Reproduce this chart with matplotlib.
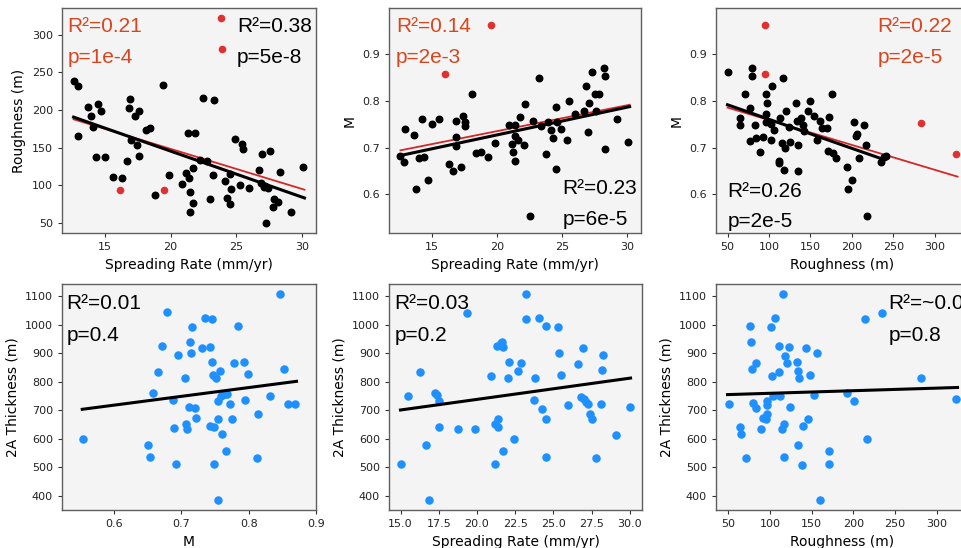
import numpy as np
import matplotlib
matplotlib.use("Agg")
import matplotlib.pyplot as plt

# ---- panel 1: spreading rate vs roughness ----
sr_p1 = [12.6, 12.9, 12.9, 13.7, 13.9, 14.1, 14.3, 14.45, 14.7, 15.0, 15.6, 16.3, 16.7, 16.9,
         16.85, 16.96, 17.3, 17.4, 17.6, 17.6, 18.1, 18.45, 18.8, 19.4, 19.9, 20.9, 21.2, 21.3,
         21.4, 21.45, 21.45, 21.7, 21.7, 21.85, 22.2, 22.5, 22.8, 23.0, 23.2, 23.3, 24.15, 24.3,
         24.5, 24.5, 24.6, 24.9, 25.3, 25.4, 25.55, 26.0, 26.7, 27.0, 26.9, 27.1, 27.3, 27.45,
         27.6, 27.85, 27.8, 28.2, 28.3, 29.2, 30.1, 27.2]
rough_p1 = [239, 232, 166, 204, 192, 178, 137, 208, 198, 137, 111, 110, 132, 215,
            203, 160, 192, 153, 199, 139, 174, 176, 87, 233, 113, 102, 116, 170,
            110, 91, 64, 76, 123, 170, 133, 216, 132, 82, 114, 213, 105, 83,
            115, 75, 95, 162, 100, 155, 148, 96, 120, 142, 103, 97, 50, 96,
            145, 82, 71, 78, 117, 64, 124, 99]
sr_p1_out = [23.8, 23.9, 16.1, 19.5]
rough_p1_out = [322, 281, 94, 94]
fit_p1_x = [12.6, 30.2]
fit_p1_all = [187.6, 94]
fit_p1_clean = [190.5, 83]

# ---- panel 2: spreading rate vs M ----
sr_p2 = [12.56, 12.85, 12.88, 13.6, 13.77, 14.0, 14.2, 14.4, 14.66, 14.95, 15.5, 16.26, 16.6,
         16.8, 16.84, 16.86, 17.2, 17.36, 17.5, 17.5, 18.04, 18.36, 18.78, 19.33, 19.85, 20.9,
         21.16, 21.2, 21.37, 21.4, 21.4, 21.6, 21.77, 22.1, 22.16, 22.5, 22.74, 23.2, 23.34,
         23.8, 23.94, 24.13, 24.3, 24.5, 24.5, 24.6, 24.9, 25.36, 25.5, 26.0, 26.7, 26.85, 27.0,
         27.1, 27.33, 27.5, 27.85, 27.6, 28.2, 28.3, 28.3, 29.2, 30.1]
m_p2 = [0.683, 0.669, 0.740, 0.726, 0.611, 0.678, 0.761, 0.679, 0.631, 0.750, 0.761, 0.665, 0.650,
        0.723, 0.756, 0.704, 0.659, 0.767, 0.755, 0.745, 0.814, 0.689, 0.690, 0.679, 0.710, 0.748,
        0.708, 0.691, 0.672, 0.748, 0.724, 0.717, 0.765, 0.706, 0.793, 0.555, 0.757, 0.847, 0.745,
        0.687, 0.754, 0.737, 0.721, 0.787, 0.654, 0.754, 0.740, 0.716, 0.800, 0.772, 0.778, 0.832,
        0.733, 0.795, 0.860, 0.813, 0.813, 0.777, 0.870, 0.853, 0.696, 0.761, 0.712]
sr_p2_out = [19.5, 16.0]
m_p2_out = [0.960, 0.856]
fit_p2_x_all = [12.56, 30.2]
fit_p2_all = [0.694, 0.791]
fit_p2_x = [12.56, 30.2]
fit_p2_clean = [0.683, 0.787]

# ---- panel 3: roughness vs M ----
rough_p3 = [50, 65.4, 65, 71, 76.7, 79.6, 79, 77, 83, 84.4, 89.3, 93, 97, 97.4, 96.6, 96.2,
            101.9, 103.5, 103, 105.5, 111.6, 112, 113.2, 115.6, 116.5, 118, 119.7, 121, 124.6,
            125.4, 133, 134.7, 135.5, 134.3, 138.3, 141, 142, 147.6, 149.7, 154, 157.4, 161.8,
            164.3, 169.5, 172.4, 171.6, 175.6, 176.8, 180.5, 193.8, 195, 200.3, 202, 204.8, 206,
            209, 215, 217, 218, 235.6, 238.5, 241]
m_p3 = [0.860, 0.762, 0.748, 0.813, 0.784, 0.870, 0.853, 0.713, 0.747, 0.721, 0.690, 0.722, 0.814,
        0.795, 0.772, 0.755, 0.716, 0.830, 0.750, 0.737, 0.666, 0.672, 0.762, 0.710, 0.847, 0.653,
        0.699, 0.778, 0.744, 0.712, 0.794, 0.650, 0.706, 0.757, 0.762, 0.748, 0.735, 0.777, 0.799,
        0.768, 0.717, 0.756, 0.742, 0.741, 0.765, 0.692, 0.814, 0.689, 0.678, 0.659, 0.611, 0.631,
        0.755, 0.724, 0.728, 0.678, 0.747, 0.705, 0.555, 0.670, 0.679, 0.683]
rough_p3_out = [95.4, 95.4, 283.8, 326]
m_p3_out = [0.960, 0.856, 0.753, 0.687]
fit_p3_x_all = [50, 327.5]
fit_p3_all = [0.785, 0.638]
fit_p3_x = [50, 236]
fit_p3_clean = [0.791, 0.676]

# ---- panel 4: M vs 2A thickness ----
m_p4 = [0.554, 0.650, 0.653, 0.658, 0.665, 0.671, 0.679, 0.687, 0.689, 0.692, 0.695, 0.706, 0.707,
        0.709, 0.713, 0.711, 0.715, 0.716, 0.720, 0.722, 0.731, 0.735, 0.742, 0.743, 0.746, 0.746,
        0.747, 0.748, 0.748, 0.752, 0.754, 0.755, 0.755, 0.757, 0.759, 0.760, 0.765, 0.766, 0.772,
        0.775, 0.778, 0.784, 0.793, 0.794, 0.799, 0.813, 0.814, 0.831, 0.846, 0.853, 0.859, 0.869,
        0.768]
thick_p4 = [599, 579, 536, 760, 835, 926, 1043, 737, 636, 511, 893, 812, 652,
            634, 938, 712, 900, 993, 707, 671, 918, 1024, 921, 645, 1019, 867,
            822, 640, 510, 811, 669, 732, 386, 837, 750, 616, 755, 556, 721,
            670, 865, 995, 870, 734, 825, 533, 685, 748, 1106, 844, 722, 722,
            755]
fit_p4_x = [0.553, 0.871]
fit_p4_y = [703, 801]

# ---- panel 5: spreading rate vs 2A thickness ----
sr_p5 = [15.0, 15.52, 16.27, 16.66, 16.88, 17.23, 17.38, 17.51, 17.51, 18.76, 19.85, 19.32, 20.9,
         21.2, 21.2, 21.38, 21.38, 21.33, 21.59, 21.68, 21.66, 21.72, 22.12, 22.05, 22.45, 22.7,
         22.9, 23.19, 23.23, 23.76, 23.82, 24.08, 24.28, 24.52, 24.54, 24.48, 25.28, 25.33, 25.48,
         25.96, 26.6, 26.77, 26.92, 26.99, 27.1, 27.27, 27.42, 27.53, 27.77, 28.08, 28.21, 28.19,
         29.06, 30.0]
thick_p5 = [510, 750, 835, 579, 386, 759, 755, 732, 643, 636, 634, 1043, 821,
            652, 511, 671, 640, 926, 936, 922, 940, 556, 870, 812, 599, 838,
            866, 1107, 1019, 737, 812, 1024, 705, 995, 670, 537, 993, 900, 825,
            720, 864, 747, 918, 739, 730, 722, 686, 669, 533, 722, 893, 843,
            614, 712]
fit_p5_x = [15.0, 30.04]
fit_p5_y = [701, 813]

# ---- panel 6: roughness vs 2A thickness ----
rough_p6 = [50.8, 64.6, 65.4, 71.4, 75.7, 77.3, 78.9, 80, 83.6, 83.6, 88.8, 91.9, 95.9, 96.7, 96.7,
            96.7, 101.8, 102.6, 104.2, 105.8, 110.5, 110.5, 111.7, 114.5, 115.7, 116.9, 117.2,
            118.4, 120.4, 123.2, 124.4, 132.7, 133.5, 133.9, 134.7, 138.2, 140.2, 143, 146.1,
            148.5, 153.2, 156, 160.4, 171.4, 171, 192.8, 200.3, 213.8, 216.9, 234.7, 281, 323.3]
thick_p6 = [722, 640, 616, 532, 995, 938, 845, 724, 867, 707, 635, 673, 671, 733, 719,
            687, 993, 821, 750, 1024, 927, 835, 750, 634, 1107, 652, 537,
            892, 865, 921, 712, 870, 579, 838, 812, 509, 645, 920, 670,
            825, 755, 900, 386, 556, 510, 759, 731, 1019, 599, 1043, 812, 738]
fit_p6_x = [49.2, 325]
fit_p6_y = [755, 780]

RED_TXT = '#d9461e'
RED = '#e03131'
BLUE = '#1e90ff'
ANN_FONT = 'Liberation Sans'

fig = plt.figure(figsize=(9.62, 5.48), dpi=100)

top_b, top_h = 0.5748, 0.4106
bot_b, bot_h = 0.0693, 0.4124
ax1 = fig.add_axes([0.0645, top_b, 0.264, top_h])
ax2 = fig.add_axes([0.4044, top_b, 0.262, top_h])
ax3 = fig.add_axes([0.7443, top_b, 0.263, top_h])
ax4 = fig.add_axes([0.0645, bot_b, 0.264, bot_h])
ax5 = fig.add_axes([0.4044, bot_b, 0.263, bot_h])
ax6 = fig.add_axes([0.7443, bot_b, 0.263, bot_h])

for ax in [ax1, ax2, ax3, ax4, ax5, ax6]:
    ax.set_facecolor('#f4f4f4')
    for s in ax.spines.values():
        s.set_color('#5f5f5f')
        s.set_linewidth(1.0)
    ax.tick_params(labelsize=8, length=3, color='#333333', labelcolor='#222222')


def ann(ax, x, y, txt, color):
    ax.text(x, y, txt, transform=ax.transAxes, fontsize=15, color=color,
            family=ANN_FONT, va='baseline', ha='left', clip_on=False)


# panel 1
ax1.plot(fit_p1_x, fit_p1_all, color='#d62728', lw=1.3, zorder=2)
ax1.scatter(sr_p1, rough_p1, s=22, color='black', zorder=3)
ax1.scatter(sr_p1_out, rough_p1_out, s=20, color=RED, zorder=3)
ax1.plot(fit_p1_x, fit_p1_clean, color='black', lw=2.2, zorder=4)
ax1.set_xlabel('Spreading Rate (mm/yr)', fontsize=10)
ax1.set_ylabel('Roughness (m)', fontsize=10)
ax1.set_yticks([50, 100, 150, 200, 250, 300])
ann(ax1, 0.022, 0.895, 'R²=0.21', RED_TXT)
ann(ax1, 0.022, 0.756, 'p=1e-4', RED_TXT)
ann(ax1, 0.688, 0.895, 'R²=0.38', 'black')
ann(ax1, 0.688, 0.756, 'p=5e-8', 'black')

# panel 2
ax2.plot(fit_p2_x_all, fit_p2_all, color='#d62728', lw=1.3, zorder=2)
ax2.scatter(sr_p2, m_p2, s=22, color='black', zorder=3)
ax2.scatter(sr_p2_out, m_p2_out, s=20, color=RED, zorder=3)
ax2.plot(fit_p2_x, fit_p2_clean, color='black', lw=2.2, zorder=4)
ax2.set_ylim(0.518, 0.997)
ax2.set_yticks([0.6, 0.7, 0.8, 0.9])
ax2.set_xlabel('Spreading Rate (mm/yr)', fontsize=10)
ax2.set_ylabel('M', fontsize=10)
ann(ax2, 0.028, 0.895, 'R²=0.14', RED_TXT)
ann(ax2, 0.028, 0.756, 'p=2e-3', RED_TXT)
ann(ax2, 0.688, 0.172, 'R²=0.23', 'black')
ann(ax2, 0.688, 0.036, 'p=6e-5', 'black')

# panel 3
ax3.plot(fit_p3_x_all, fit_p3_all, color='#d62728', lw=1.3, zorder=2)
ax3.scatter(rough_p3, m_p3, s=22, color='black', zorder=3)
ax3.scatter(rough_p3_out, m_p3_out, s=20, color=RED, zorder=3)
ax3.plot(fit_p3_x, fit_p3_clean, color='black', lw=2.2, zorder=4)
ax3.set_ylim(0.518, 0.997)
ax3.set_yticks([0.6, 0.7, 0.8, 0.9])
ax3.set_xlabel('Roughness (m)', fontsize=10)
ax3.set_ylabel('M', fontsize=10)
ann(ax3, 0.638, 0.895, 'R²=0.22', RED_TXT)
ann(ax3, 0.638, 0.756, 'p=2e-5', RED_TXT)
ann(ax3, 0.045, 0.161, 'R²=0.26', 'black')
ann(ax3, 0.045, 0.028, 'p=2e-5', 'black')

# panel 4
ax4.scatter(m_p4, thick_p4, s=26, color=BLUE, zorder=3)
ax4.plot(fit_p4_x, fit_p4_y, color='black', lw=2.2, zorder=4)
ax4.set_xlim(0.523, 0.9)
ax4.set_xticks([0.6, 0.7, 0.8, 0.9])
ax4.set_xlabel('M', fontsize=10)
ax4.set_ylabel('2A Thickness (m)', fontsize=10)
ann(ax4, 0.018, 0.888, 'R²=0.01', 'black')
ann(ax4, 0.018, 0.749, 'p=0.4', 'black')

# panel 5
ax5.scatter(sr_p5, thick_p5, s=26, color=BLUE, zorder=3)
ax5.plot(fit_p5_x, fit_p5_y, color='black', lw=2.2, zorder=4)
ax5.set_xticks([15.0, 17.5, 20.0, 22.5, 25.0, 27.5, 30.0])
ax5.set_xlabel('Spreading Rate (mm/yr)', fontsize=10)
ax5.set_ylabel('2A Thickness (m)', fontsize=10)
ann(ax5, 0.022, 0.888, 'R²=0.03', 'black')
ann(ax5, 0.022, 0.749, 'p=0.2', 'black')

# panel 6 (right side runs off the figure, as in the original)
ax6.scatter(rough_p6, thick_p6, s=26, color=BLUE, zorder=3)
ax6.plot(fit_p6_x, fit_p6_y, color='black', lw=2.2, zorder=4)
ax6.set_xticks([50, 100, 150, 200, 250, 300])
ax6.set_xlabel('Roughness (m)', fontsize=10)
ax6.set_ylabel('2A Thickness (m)', fontsize=10)
ann(ax6, 0.681, 0.888, 'R²=~0.00', 'black')
ann(ax6, 0.681, 0.749, 'p=0.8', 'black')

for ax in [ax4, ax5, ax6]:
    ax.set_yticks([400, 500, 600, 700, 800, 900, 1000, 1100])

fig.savefig('out.png', dpi=100)
